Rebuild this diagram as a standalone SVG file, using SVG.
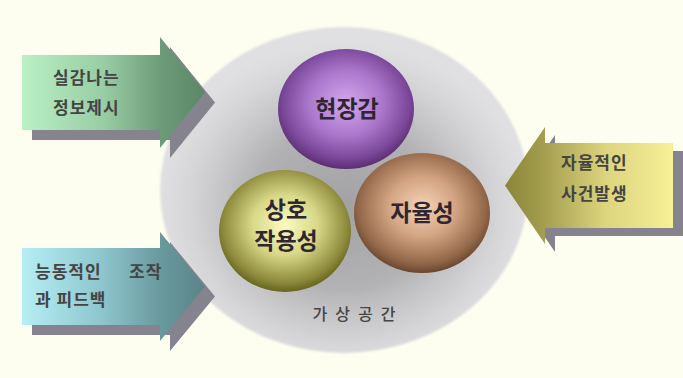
<svg xmlns="http://www.w3.org/2000/svg" width="683" height="378" viewBox="0 0 683 378">
  <defs>
    <radialGradient id="space" cx="0.5" cy="0.55" r="0.5">
      <stop offset="0" stop-color="#a2a2a4"/>
      <stop offset="0.5" stop-color="#b2b2b4"/>
      <stop offset="0.68" stop-color="#c6c6c8"/>
      <stop offset="0.85" stop-color="#d6d6d8"/>
      <stop offset="1" stop-color="#e0e0e2"/>
    </radialGradient>
    <radialGradient id="gPurple" cx="0.5" cy="0.45" r="0.55">
      <stop offset="0" stop-color="#d4a8ec"/>
      <stop offset="0.5" stop-color="#aa76cc"/>
      <stop offset="0.85" stop-color="#7a4698"/>
      <stop offset="1" stop-color="#5a2e70"/>
    </radialGradient>
    <radialGradient id="gOlive" cx="0.5" cy="0.45" r="0.55">
      <stop offset="0" stop-color="#fafac0"/>
      <stop offset="0.45" stop-color="#d8d888"/>
      <stop offset="0.85" stop-color="#8e8c3c"/>
      <stop offset="1" stop-color="#66641e"/>
    </radialGradient>
    <radialGradient id="gBrown" cx="0.5" cy="0.45" r="0.55">
      <stop offset="0" stop-color="#f6d4b8"/>
      <stop offset="0.45" stop-color="#d2a482"/>
      <stop offset="0.85" stop-color="#93684a"/>
      <stop offset="1" stop-color="#6a4630"/>
    </radialGradient>
    <linearGradient id="gGreen" x1="22" y1="0" x2="205" y2="0" gradientUnits="userSpaceOnUse">
      <stop offset="0" stop-color="#baf0c4"/>
      <stop offset="0.45" stop-color="#98cca4"/>
      <stop offset="0.75" stop-color="#6e9c7a"/>
      <stop offset="1" stop-color="#5a8866"/>
    </linearGradient>
    <linearGradient id="gCyan" x1="22" y1="0" x2="205" y2="0" gradientUnits="userSpaceOnUse">
      <stop offset="0" stop-color="#b6eef4"/>
      <stop offset="0.45" stop-color="#8cc4cc"/>
      <stop offset="0.75" stop-color="#6a9a9e"/>
      <stop offset="1" stop-color="#5a8488"/>
    </linearGradient>
    <linearGradient id="gYellow" x1="673" y1="0" x2="505" y2="0" gradientUnits="userSpaceOnUse">
      <stop offset="0" stop-color="#f6f096"/>
      <stop offset="0.4" stop-color="#ddd47e"/>
      <stop offset="0.75" stop-color="#a6a050"/>
      <stop offset="1" stop-color="#8a8638"/>
    </linearGradient>
    <filter id="soft" x="-5%" y="-5%" width="110%" height="110%">
      <feGaussianBlur stdDeviation="1.2"/>
    </filter>
  </defs>
  <style>
    .shadow { fill: #85838e; }
    .ball { font-family: "Noto Sans CJK KR", "Noto Sans", sans-serif; font-size: 23px; font-weight: bold; fill: #2e2630; text-anchor: middle; }
    .lbl { font-family: "Noto Sans CJK KR", "Noto Sans", sans-serif; font-size: 17px; font-weight: bold; fill: #444444; letter-spacing: 1px; }
    .space { font-family: "Noto Sans CJK KR", "Noto Sans", sans-serif; font-size: 16px; font-weight: 500; fill: #454545; letter-spacing: 8px; text-anchor: middle; }
  </style>

  <rect width="683" height="378" fill="#fdfdf0"/>

  <!-- virtual space backdrop -->
  <g id="virtual-space">
    <ellipse cx="344" cy="190" rx="184" ry="163" fill="url(#space)" filter="url(#soft)"/>
    <text class="space" x="358" y="320">가상공간</text>
  </g>

  <!-- three spheres -->
  <g id="presence">
    <ellipse cx="346" cy="109" rx="68" ry="60" fill="url(#gPurple)"/>
    <text class="ball" x="347" y="117">현장감</text>
  </g>
  <g id="interactivity">
    <ellipse cx="285" cy="231" rx="66" ry="61" fill="url(#gOlive)"/>
    <text class="ball" x="286" y="218">상호</text>
    <text class="ball" x="286" y="249">작용성</text>
  </g>
  <g id="autonomy">
    <ellipse cx="422" cy="213" rx="68" ry="60" fill="url(#gBrown)"/>
    <text class="ball" x="422" y="221">자율성</text>
  </g>

  <!-- input arrows -->
  <g id="connectors">
    <g id="arrow-info">
      <path class="shadow" d="M32 65 H170 V47 L215 102.5 L170 158 V140 H32 Z"/>
      <path d="M22 55 H160 V37 L205 92.5 L160 148 V130 H22 Z" fill="url(#gGreen)"/>
      <text class="lbl" x="53" y="84">실감나는</text>
      <text class="lbl" x="53" y="114">정보제시</text>
    </g>
    <g id="arrow-feedback">
      <path class="shadow" d="M32 258 H170 V242 L215 296.5 L170 351 V335 H32 Z"/>
      <path d="M22 248 H160 V232 L205 286.5 L160 341 V325 H22 Z" fill="url(#gCyan)"/>
      <text class="lbl" x="35" y="278">능동적인</text>
      <text class="lbl" x="129" y="278">조작</text>
      <text class="lbl" x="35" y="306">과 피드백</text>
    </g>
    <g id="arrow-event">
      <path class="shadow" d="M683 151 H555 V135 L515 193.5 L555 252 V236 H683 Z"/>
      <path d="M673 143 H545 V127 L505 185.5 L545 244 V228 H673 Z" fill="url(#gYellow)"/>
      <text class="lbl" x="561" y="169">자율적인</text>
      <text class="lbl" x="561" y="200">사건발생</text>
    </g>
  </g>
</svg>
